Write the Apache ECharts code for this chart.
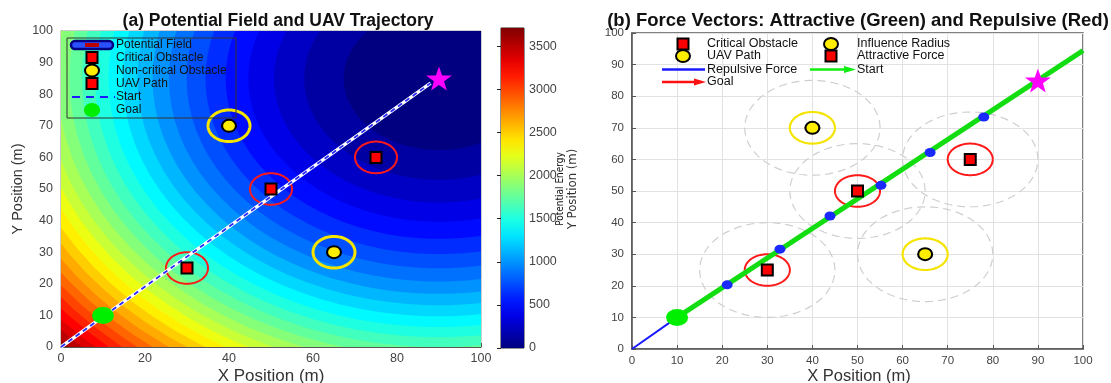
<!DOCTYPE html>
<html><head><meta charset="utf-8">
<script src="https://cdn.jsdelivr.net/npm/echarts@6/dist/echarts.min.js"></script>
<style>html,body{margin:0;padding:0;background:#fff}#c{width:1111px;height:383px}</style>
</head><body><div id="c"></div>
<script>
// ---------------- data ----------------
const goal = [90, 85];
const start = [10, 10];
const criticalObstacles = [[30, 25], [50, 50], [75, 60]];
const nonCriticalObstacles = [[40, 70], [65, 30]];
const ringRadius = 5;          // m
const influenceRadius = 15;    // m
const fieldMax = 3712;         // top of colour bar
// contour levels of the potential field and the radius (m, from the goal) where each is crossed
const contourLevels = [0, 125, 250, 375, 500, 625, 750, 875, 1000, 1125, 1250, 1375, 1500, 1625, 1750,
  1875, 2000, 2125, 2250, 2375, 2500, 2625, 2750, 2875, 3000, 3125, 3250, 3375, 3500, 3625];
const contourRadii = [0, 22.7, 32.1, 39.3, 45.4, 50.8, 55.6, 60.1, 64.3, 68.2, 71.8, 75.3, 78.7, 81.9, 85.0,
  88.0, 90.9, 93.7, 96.4, 99.0, 101.6, 104.1, 106.6, 109.0, 111.3, 113.6, 115.8, 118.0, 120.2, 122.3];
const colorbarTicks = [0, 500, 1000, 1500, 2000, 2500, 3000, 3500];
const uavPathA = [[0, 0], [10, 9.6], [30, 28.6], [50, 47.6], [70, 66.4], [88, 83.5]];
const repulsivePathB = [[0, 0], [10, 10], [100, 94.4]];
const attractiveLineB = [[10, 10], [100, 94.4]];
const forcePointsB = [[21.1, 20.3], [32.8, 31.6], [43.9, 42.1], [55.2, 51.8], [66.1, 62.2], [78.0, 73.4]];

// ---------------- helpers ----------------
function jet(t) {
  t = Math.max(0, Math.min(1, t));
  const f = v => Math.round(255 * Math.max(0, Math.min(1, v)));
  return 'rgb(' + f(1.5 - Math.abs(4 * t - 3)) + ',' + f(1.5 - Math.abs(4 * t - 2)) + ',' + f(1.5 - Math.abs(4 * t - 1)) + ')';
}
function circlePts(api, cx, cy, r) {
  const pts = [];
  for (let a = 0; a <= 360; a += 4) {
    const rad = a * Math.PI / 180;
    pts.push(api.coord([cx + r * Math.cos(rad), cy + r * Math.sin(rad)]));
  }
  return pts;
}
// disks drawn from outside in: disk bounded by radius r[k+1] painted with colour of level k
const diskData = [];
for (let k = contourLevels.length - 1; k >= 0; k--) {
  const outer = k + 1 < contourRadii.length ? contourRadii[k + 1] : 400;
  diskData.push([outer, contourLevels[k]]);
}
const ringsA = criticalObstacles.map(p => [p[0], p[1], 0]).concat(nonCriticalObstacles.map(p => [p[0], p[1], 1]));
const allObstacles = criticalObstacles.concat(nonCriticalObstacles);
const STAR = 'path://M50,0 L61.8,35.1 L98.9,35.5 L69.1,57.6 L79.4,93 L50,72 L20.6,93 L30.9,57.6 L1.1,35.5 L38.2,35.1 Z';
const FONT = 'Liberation Sans, Arial, sans-serif';
const NARROW = 'Liberation Sans Narrow, DejaVu Sans Condensed, Arial, sans-serif';

const labelA = { color: '#444', fontSize: 12.5, fontFamily: FONT };
const labelB = { color: '#444', fontSize: 11.5, fontFamily: FONT };

function ringSeries(gridIdx, data, dashed) {
  return {
    type: 'custom', xAxisIndex: gridIdx, yAxisIndex: gridIdx, clip: true, silent: true,
    data: data,
    renderItem: function (params, api) {
      const cx = api.value(0), cy = api.value(1), kind = api.value(2);
      const r = dashed ? influenceRadius : ringRadius;
      let stroke, lw, dash = null;
      if (dashed) { stroke = '#cfcfcf'; lw = 1.2; dash = [8, 5]; }
      else if (kind === 0) { stroke = '#ff1a1a'; lw = 2; }
      else { stroke = '#f5e400'; lw = gridIdx === 0 ? 3 : 2.2; }
      return { type: 'polyline', shape: { points: circlePts(api, cx, cy, r) },
        style: { stroke: stroke, lineWidth: lw, fill: null, lineDash: dash } };
    }
  };
}
function pts(idx, data, symbol, size, style) {
  return { type: 'scatter', xAxisIndex: idx, yAxisIndex: idx, data: data, symbol: symbol, symbolSize: size,
    itemStyle: Object.assign({ opacity: 1 }, style), z: 4, silent: true };
}

const chart = echarts.init(document.getElementById('c'), null, { renderer: 'canvas' });

const option = {
  backgroundColor: '#fff',
  animation: false,
  title: [
    { text: '(a) Potential Field and UAV Trajectory', left: 273, top: 7, textAlign: 'center',
      textStyle: { fontSize: 17.5, fontWeight: 'bold', fontFamily: FONT, color: '#111' } },
    { text: '(b) Force Vectors: Attractive (Green) and Repulsive (Red)', left: 853, top: 6, textAlign: 'center',
      textStyle: { fontSize: 18.5, fontWeight: 'bold', fontFamily: FONT, color: '#111' } }
  ],
  grid: [
    { left: 61, top: 31, width: 420, height: 316, show: true, borderColor: '#999', borderWidth: 1, backgroundColor: 'transparent' },
    { left: 501, top: 28, width: 23, height: 320, show: true, borderColor: '#222', borderWidth: 1 },
    { left: 632, top: 33, width: 451, height: 316, show: true, borderColor: '#555', borderWidth: 1.5 }
  ],
  xAxis: [
    { gridIndex: 0, type: 'value', min: 0, max: 100, interval: 20,
      axisLine: { show: true, lineStyle: { color: '#555' } }, axisTick: { inside: true, length: 4, lineStyle: { color: '#555' } },
      splitLine: { show: false }, axisLabel: Object.assign({ margin: 5 }, labelA) },
    { gridIndex: 1, type: 'value', min: 0, max: 1, show: false },
    { gridIndex: 2, type: 'value', min: 0, max: 100, interval: 10,
      axisLine: { show: true, lineStyle: { color: '#555', width: 1.5 } }, axisTick: { inside: true, length: 4, lineStyle: { color: '#555' } },
      splitLine: { show: true, lineStyle: { color: '#e2e2e2', width: 1 } }, axisLabel: Object.assign({ margin: 6 }, labelB) }
  ],
  yAxis: [
    { gridIndex: 0, type: 'value', min: 0, max: 100, interval: 10,
      axisLine: { show: true, lineStyle: { color: '#555' } }, axisTick: { inside: true, length: 4, lineStyle: { color: '#555' } },
      splitLine: { show: false }, axisLabel: Object.assign({ margin: 8 }, labelA) },
    { gridIndex: 1, type: 'value', min: 0, max: fieldMax, interval: 500, position: 'right',
      axisLine: { show: false }, axisTick: { show: true, inside: true, length: 4, lineStyle: { color: '#222' } },
      splitLine: { show: false },
      axisLabel: Object.assign({ margin: 5, showMaxLabel: false, formatter: v => String(v) }, labelA) },
    { gridIndex: 2, type: 'value', min: 0, max: 100, interval: 10,
      axisLine: { show: true, lineStyle: { color: '#555', width: 1.5 } }, axisTick: { inside: true, length: 4, lineStyle: { color: '#555' } },
      splitLine: { show: true, lineStyle: { color: '#e2e2e2', width: 1 } }, axisLabel: Object.assign({ margin: 8 }, labelB) }
  ],
  series: [
    // ---- panel (a): potential field bands ----
    { type: 'custom', xAxisIndex: 0, yAxisIndex: 0, clip: true, silent: true, data: diskData,
      renderItem: function (params, api) {
        const r = api.value(0), lvl = api.value(1);
        return { type: 'polygon', shape: { points: circlePts(api, goal[0], goal[1], r) },
          style: { fill: jet(lvl / fieldMax), stroke: null } };
      } },
    ringSeries(0, ringsA, false),
    { type: 'line', xAxisIndex: 0, yAxisIndex: 0, data: uavPathA, symbol: 'none', silent: true,
      lineStyle: { color: '#ffffff', width: 3.5 }, z: 3 },
    { type: 'line', xAxisIndex: 0, yAxisIndex: 0, data: uavPathA, symbol: 'none', silent: true,
      lineStyle: { color: '#2a2aff', width: 1.8, type: [5, 4] }, z: 3 },
    pts(0, criticalObstacles, 'rect', 11, { color: '#ff0000', borderColor: '#000', borderWidth: 2 }),
    pts(0, nonCriticalObstacles, 'circle', [14, 12], { color: '#ffee00', borderColor: '#000', borderWidth: 2 }),
    pts(0, [start], 'circle', [22, 17], { color: '#00ee00' }),
    pts(0, [goal], STAR, [26, 24], { color: '#ff00ff' }),
    // ---- colour bar ----
    { type: 'custom', xAxisIndex: 1, yAxisIndex: 1, silent: true, data: [[0, fieldMax]],
      renderItem: function (params, api) {
        const p0 = api.coord([0, 0]), p1 = api.coord([1, api.value(1)]);
        const stops = [];
        for (let i = 0; i <= 20; i++) stops.push({ offset: i / 20, color: jet(i / 20) });
        return { type: 'rect', shape: { x: p0[0], y: p1[1], width: p1[0] - p0[0], height: p0[1] - p1[1] },
          style: { fill: new echarts.graphic.LinearGradient(0, 1, 0, 0, stops) } };
      } },
    // ---- panel (b) ----
    ringSeries(2, allObstacles, true),
    ringSeries(2, ringsA, false),
    { type: 'line', xAxisIndex: 2, yAxisIndex: 2, data: repulsivePathB, symbol: 'none', silent: true,
      lineStyle: { color: '#1a1aff', width: 2 }, z: 3 },
    { type: 'line', xAxisIndex: 2, yAxisIndex: 2, data: attractiveLineB, symbol: 'none', silent: true,
      lineStyle: { color: '#11dd11', width: 5 }, z: 3 },
    pts(2, forcePointsB, 'circle', [11, 9], { color: '#1a2aff' }),
    pts(2, criticalObstacles, 'rect', 11, { color: '#ff0000', borderColor: '#000', borderWidth: 2 }),
    pts(2, nonCriticalObstacles, 'circle', [14, 12], { color: '#ffee00', borderColor: '#000', borderWidth: 2 }),
    pts(2, [start], 'circle', [22, 17], { color: '#00ee00' }),
    pts(2, [goal], STAR, [26, 24], { color: '#ff00ff' })
  ],
  graphic: []
};

// ---------------- legends and axis names (graphic) ----------------
const g = [];
function txt(s, x, y, size, opts) {
  opts = opts || {};
  return { type: 'text', x: x, y: y, rotation: opts.rot || 0, z: 100,
    style: { text: s, font: (opts.bold ? 'bold ' : '') + size + 'px ' + (opts.family || FONT), fill: opts.color || '#111',
      align: opts.align || 'left', verticalAlign: 'middle', textAlign: opts.align || 'left', textVerticalAlign: 'middle' } };
}
function sq(cx, cy) { return { type: 'rect', z: 100, shape: { x: cx - 5.5, y: cy - 5.5, width: 11, height: 11 }, style: { fill: '#ff0000', stroke: '#000', lineWidth: 2 } }; }
function yc(cx, cy) { return { type: 'ellipse', z: 100, shape: { cx: cx, cy: cy, rx: 7, ry: 6 }, style: { fill: '#ffee00', stroke: '#000', lineWidth: 2 } }; }
function arrow(x1, x2, y, color) {
  return [
    { type: 'line', z: 100, shape: { x1: x1, y1: y, x2: x2 - 8, y2: y }, style: { stroke: color, lineWidth: 2.5 } },
    { type: 'polygon', z: 100, shape: { points: [[x2 - 12, y - 3.5], [x2, y], [x2 - 12, y + 3.5]] }, style: { fill: color } }
  ];
}
// panel (a) legend
g.push({ type: 'rect', z: 99, shape: { x: 67, y: 38, width: 169, height: 80 }, style: { fill: null, stroke: '#333', lineWidth: 1 } });
const rowsA = [45, 57.5, 70.5, 83.5, 97, 110];
const labelsA = ['Potential Field', 'Critical Obstacle', 'Non-critical Obstacle', 'UAV Path', 'Start', 'Goal'];
labelsA.forEach((s, i) => g.push(txt(s, 116, rowsA[i], 12)));
g.push({ type: 'rect', z: 100, shape: { x: 71, y: rowsA[0] - 4, width: 42, height: 8, r: 4 }, style: { fill: '#2a50ff', stroke: '#000080', lineWidth: 2.5 } });
g.push({ type: 'rect', z: 100, shape: { x: 85, y: rowsA[0] - 2, width: 14, height: 4 }, style: { fill: '#bb0000' } });
g.push(sq(92, rowsA[1]));
g.push(yc(92, rowsA[2]));
g.push(sq(92, rowsA[3]));
g.push({ type: 'line', z: 100, shape: { x1: 72, y1: rowsA[4], x2: 115, y2: rowsA[4] }, style: { stroke: '#1a1aff', lineWidth: 2, lineDash: [8, 6] } });
g.push({ type: 'ellipse', z: 100, shape: { cx: 92, cy: rowsA[5], rx: 8, ry: 7 }, style: { fill: '#00ee00' } });
// panel (b) legend
const rowsB = [44, 56, 69.5, 82];
g.push(sq(683, rowsB[0])); g.push(txt('Critical Obstacle', 707, rowsB[0], 12.5));
g.push(yc(683, rowsB[1])); g.push(txt('UAV Path', 707, rowsB[1], 12.5));
g.push({ type: 'line', z: 100, shape: { x1: 662, y1: rowsB[2], x2: 705, y2: rowsB[2] }, style: { stroke: '#1a1aff', lineWidth: 2.5 } });
g.push(txt('Repulsive Force', 707, rowsB[2], 12.5));
arrow(662, 706, rowsB[3], '#ff1111').forEach(e => g.push(e)); g.push(txt('Goal', 707, rowsB[3], 12.5));
g.push(yc(831, rowsB[0])); g.push(txt('Influence Radius', 857, rowsB[0], 12.5));
g.push(sq(831, rowsB[1])); g.push(txt('Attractive Force', 857, rowsB[1], 12.5));
arrow(810, 856, rowsB[2], '#11ee11').forEach(e => g.push(e)); g.push(txt('Start', 857, rowsB[2], 12.5));
// axis names
g.push(txt('X Position (m)', 271, 376, 17, { align: 'center', color: '#333' }));
g.push(txt('X Position (m)', 859, 376, 16.5, { align: 'center', color: '#333' }));
g.push(txt('Y Position (m)', 18, 189, 14.5, { align: 'center', color: '#333', rot: Math.PI / 2 }));
g.push(txt('Potential Energy', 560, 189, 10, { align: 'center', color: '#111', rot: Math.PI / 2, family: NARROW }));
g.push(txt('Y Position (m)', 573, 189, 13, { align: 'center', color: '#333', rot: Math.PI / 2, family: NARROW }));
option.graphic = g;

chart.setOption(option);
</script></body></html>
